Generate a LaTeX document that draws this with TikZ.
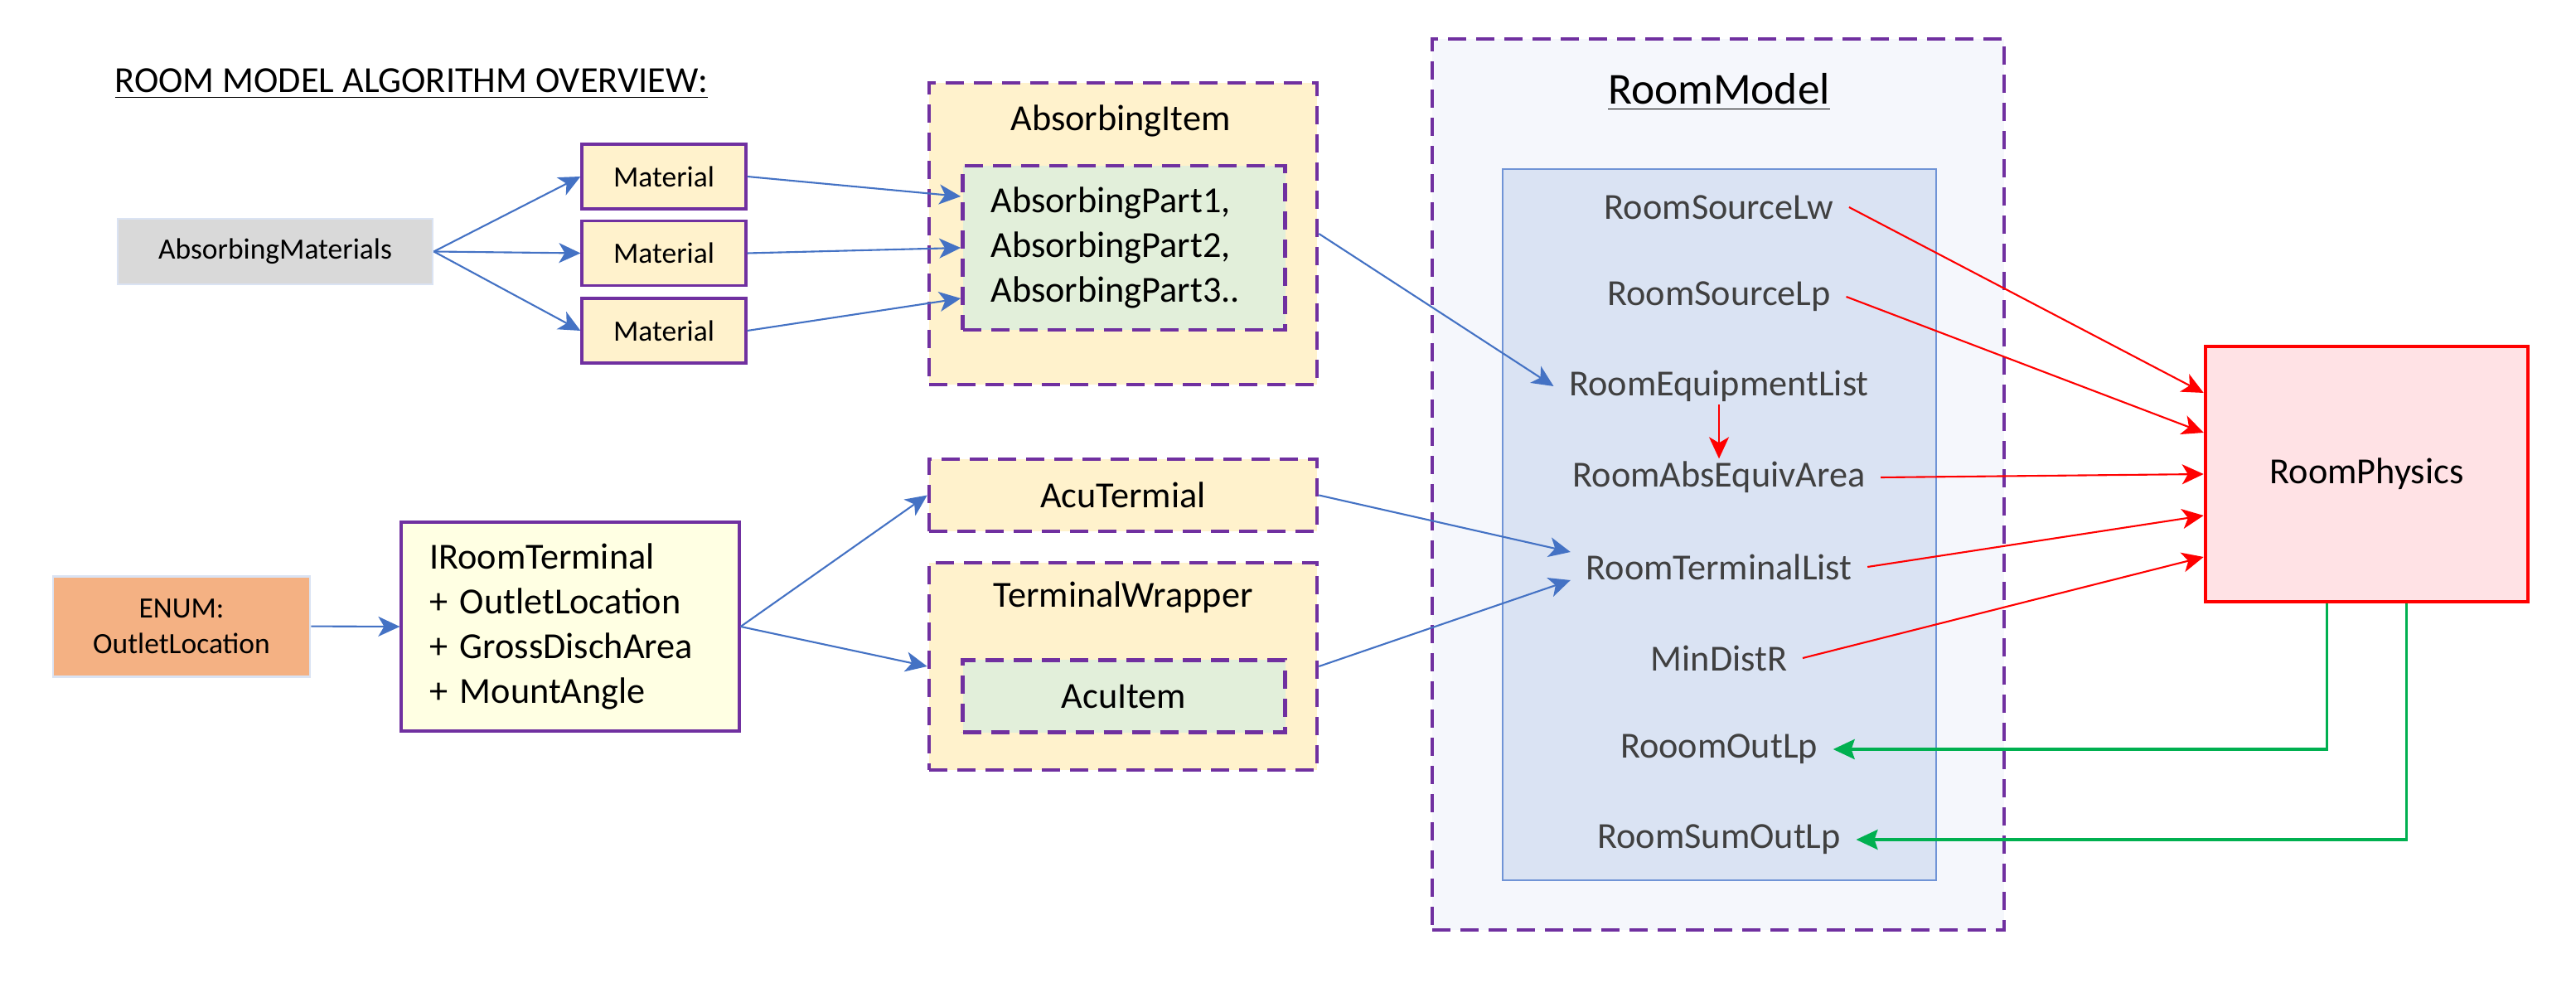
\documentclass[tikz,border=0pt]{standalone}
\usepackage{fontspec}
\setmainfont{Carlito}
\usetikzlibrary{arrows.meta}
\definecolor{purp}{HTML}{7030A0}
\definecolor{matfill}{HTML}{FFF2CC}
\definecolor{partfill}{HTML}{E2EFDA}
\definecolor{grayfill}{HTML}{D9D9D9}
\definecolor{paleblue}{HTML}{DAE3F3}
\definecolor{enumfill}{HTML}{F4B183}
\definecolor{ifacefill}{HTML}{FFFFE3}
\definecolor{modelfill}{HTML}{F5F7FC}
\definecolor{listfill}{HTML}{DAE3F3}
\definecolor{listblue}{HTML}{7094D6}
\definecolor{physfill}{HTML}{FFE2E5}
\definecolor{arrblue}{HTML}{4472C4}
\definecolor{arrgreen}{HTML}{00B050}
\definecolor{dgray}{HTML}{404040}
\newcommand{\smallfnt}{\fontsize{10.1pt}{12.2pt}\selectfont}
\newcommand{\mainfnt}{\fontsize{12.6pt}{15.4pt}\selectfont}
\newcommand{\bigfnt}{\fontsize{15.2pt}{18pt}\selectfont}

\begin{document}
\begin{tikzpicture}[x=0.2mm,y=-0.2mm]
        \tikzstyle{matbox}=[draw=purp,line width=0.9pt,fill=matfill,minimum width=19.8mm,minimum height=7.8mm,inner sep=0pt,font=\smallfnt]
        \tikzstyle{dashbox}=[draw=purp,line width=1.3pt,dash pattern=on 2.2mm off 1.2mm,inner sep=0pt]
        \tikzstyle{listitem}=[text=dgray,font=\mainfnt,inner xsep=1.8mm,inner ysep=0.3mm]
        \tikzstyle{bluearr}=[draw=arrblue,line width=0.6pt,-{Stealth[length=2.6mm,width=2.4mm,inset=0.7mm]}]
        \tikzstyle{redarr}=[draw=red,line width=0.6pt,-{Stealth[length=2.6mm,width=2.4mm,inset=0.7mm]}]
        \tikzstyle{greenarr}=[draw=arrgreen,line width=1pt,-{Stealth[length=2.6mm,width=2.4mm,inset=0.4mm]}]
        \useasboundingbox (0,0) rectangle (1554,593);
        \node[font=\mainfnt, inner sep=0pt, anchor=base west] (title) at (69,56) {\underline{ROOM MODEL ALGORITHM OVERVIEW:}};
        \node[draw=paleblue, line width=0.8pt, fill=grayfill, minimum width=38mm, minimum height=7.9mm, inner sep=0pt, font=\smallfnt] (absmat) at (166,151.75) {AbsorbingMaterials};
        \node[matbox] (mat1) at (400.5,106.5) {Material};
        \node[matbox] (mat2) at (400.5,152.75) {Material};
        \node[matbox] (mat3) at (400.5,199.5) {Material};
        \node[dashbox, fill=matfill, minimum width=46.8mm, minimum height=36.4mm] (absitem) at (677.5,141) {};
        \node[font=\mainfnt, inner sep=0pt, anchor=base] (absitemtitle) at (676,79) {AbsorbingItem};
        \node[dashbox, fill=partfill, minimum height=19.8mm, text width=32.1mm, inner xsep=3.4mm, align=left, font=\mainfnt] (absparts) at (678,149.5) {AbsorbingPart1,\\AbsorbingPart2,\\AbsorbingPart3..};
        \node[draw=paleblue, line width=0.8pt, fill=enumfill, minimum width=31mm, minimum height=12.1mm, inner sep=0pt, align=center, font=\smallfnt] (enumloc) at (109.5,377.8) {ENUM:\\OutletLocation};
        \node[draw=purp, line width=0.9pt, fill=ifacefill, minimum height=25.2mm, text width=34mm, inner xsep=3.4mm, align=left, font=\mainfnt] (iroom) at (344,378) {IRoomTerminal\\+ OutletLocation\\+ GrossDischArea\\+ MountAngle};
        \node[dashbox, fill=matfill, minimum width=46.8mm, minimum height=8.7mm, font=\mainfnt] (acuterm) at (677.5,298.75) {AcuTermial};
        \node[dashbox, fill=matfill, minimum width=46.8mm, minimum height=25mm] (termwrap) at (677.5,402) {};
        \node[font=\mainfnt, inner sep=0pt, anchor=base] (termwraptitle) at (677.5,366.5) {TerminalWrapper};
        \node[dashbox, fill=partfill, minimum width=38.9mm, minimum height=8.7mm, font=\mainfnt] (acuitem) at (678,420) {AcuItem};
        \node[dashbox, fill=modelfill, minimum width=69mm, minimum height=107.5mm] (roommodel) at (1036.5,292.3) {};
        \node[font=\bigfnt, inner sep=0pt, anchor=base] (modeltitle) at (1037,63) {\underline{RoomModel}};
        \node[draw=listblue, line width=0.6pt, fill=listfill, minimum width=52.3mm, minimum height=85.8mm] (roomlist) at (1037.3,316.5) {};
        \node[listitem] (lw) at (1037,125) {RoomSourceLw};
        \node[listitem] (lp) at (1037,179) {RoomSourceLp};
        \node[listitem] (equip) at (1037,233) {RoomEquipmentList};
        \node[listitem] (absarea) at (1037,288) {RoomAbsEquivArea};
        \node[listitem] (termlist) at (1037,342) {RoomTerminalList};
        \node[listitem] (mindist) at (1037,397) {MinDistR};
        \node[listitem] (outlp) at (1037,452) {RooomOutLp};
        \node[listitem] (sumoutlp) at (1037,506.5) {RoomSumOutLp};
        \node[draw=red, line width=1.3pt, fill=physfill, minimum width=38.9mm, minimum height=30.8mm, font=\mainfnt] (phys) at (1427.75,286) {RoomPhysics};
        \draw[bluearr] (absmat.east) -- (mat1.west);
        \draw[bluearr] (absmat.east) -- (mat2.west);
        \draw[bluearr] (absmat.east) -- (mat3.west);
        \draw[bluearr] (mat1.east) -- ([yshift=6.2mm]absparts.west);
        \draw[bluearr] (mat2.east) -- (absparts.west);
        \draw[bluearr] (mat3.east) -- ([yshift=-6.1mm]absparts.west);
        \draw[bluearr] (absitem.east) -- (equip.west);
        \draw[bluearr] (enumloc.east) -- (iroom.west);
        \draw[bluearr] (iroom.east) -- (acuterm.west);
        \draw[bluearr] (iroom.east) -- (termwrap.west);
        \draw[bluearr] (acuterm.east) -- ([yshift=1.8mm]termlist.west);
        \draw[bluearr] (termwrap.east) -- ([yshift=-1.6mm]termlist.west);
        \draw[redarr] (lw.east) -- ([yshift=9.8mm]phys.west);
        \draw[redarr] (lp.east) -- ([yshift=5mm]phys.west);
        \draw[redarr] (absarea.east) -- (phys.west);
        \draw[redarr] (termlist.east) -- ([yshift=-5mm]phys.west);
        \draw[redarr] (mindist.east) -- ([yshift=-10mm]phys.west);
        \draw[redarr] (equip.south) -- (absarea.north);
        \draw[greenarr] ([xshift=-4.8mm]phys.south) |- (outlp.east);
        \draw[greenarr] ([xshift=4.8mm]phys.south) |- (sumoutlp.east);
    \end{tikzpicture}
\end{document}
